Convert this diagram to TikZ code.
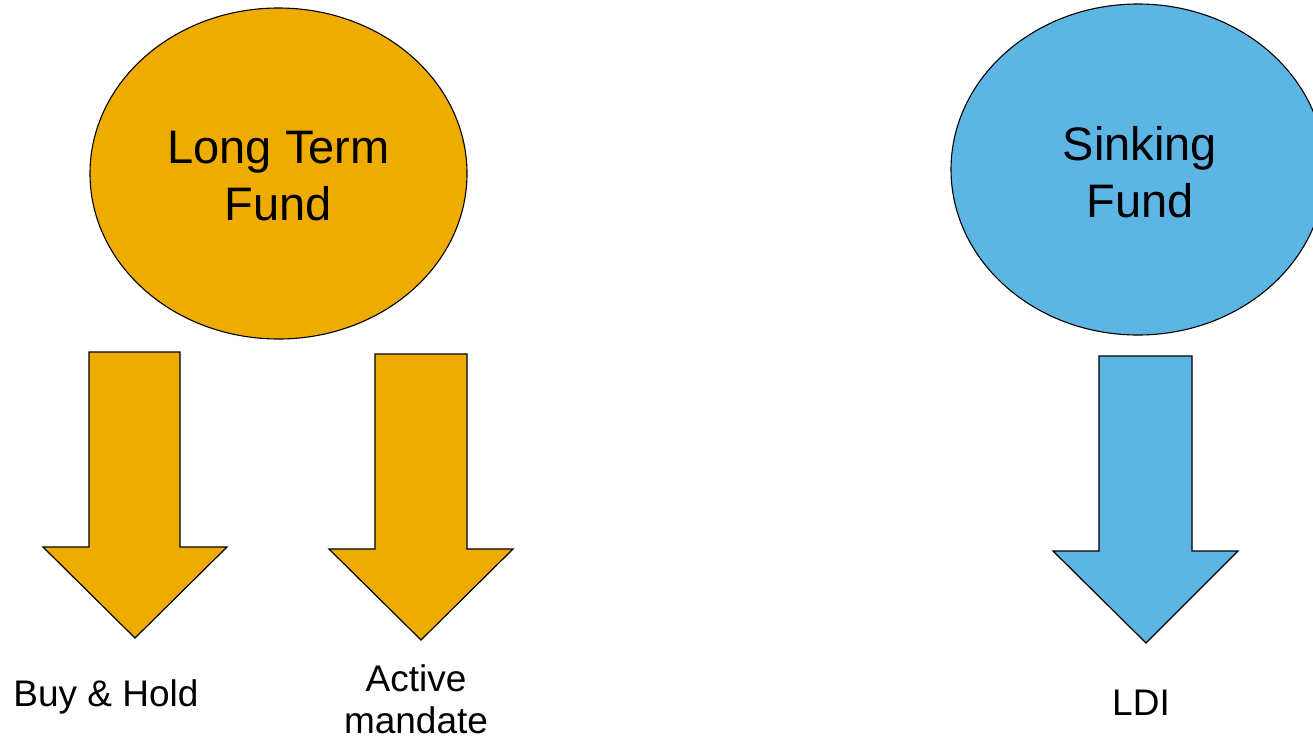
\documentclass[tikz,border=0pt]{standalone}
\usepackage{fontspec}
\setmainfont{Liberation Sans}
\usetikzlibrary{shapes.geometric}
\definecolor{fundorange}{HTML}{EFAC00}
\definecolor{fundblue}{HTML}{5DB5E4}
\tikzset{
  fund/.style={ellipse, draw=black, line width=1.1pt, inner sep=0pt},
  fundtext/.style={inner sep=0pt, align=center, font=\fontsize{47}{57}\selectfont},
  bigarrow/.style={draw=black, line width=1.2pt, line join=miter},
  lbl/.style={inner sep=0pt, align=center, font=\fontsize{37}{42}\selectfont}
}
\begin{document}
\begin{tikzpicture}[x=1pt, y=-1pt]
\fill[white] (0,0) rectangle (1313,739);
\useasboundingbox (0,0) rectangle (1313,739);

% ellipses
\node[fund, fill=fundorange, minimum width=377pt, minimum height=331pt] (ltf) at (278.5,173.5) {};
\node[fundtext] (ltft) at ([yshift=-3pt]ltf.center) {Long Term\\Fund};
\node[fund, fill=fundblue, minimum width=374pt, minimum height=331pt] (sf) at (1138,169.5) {};
\node[fundtext] (sft) at ([xshift=2pt,yshift=-2.5pt]sf.center) {Sinking\\Fund};

% arrows
\draw[bigarrow, fill=fundorange] (89,352) -- (180,352) -- (180,547) -- (227,547) -- (135,638) -- (43,547) -- (89,547) -- cycle;
\draw[bigarrow, fill=fundorange] (375,354) -- (467,354) -- (467,549) -- (513,549) -- (421,640) -- (329,549) -- (375,549) -- cycle;
\draw[bigarrow, fill=fundblue] (1099,356) -- (1192,356) -- (1192,551) -- (1238,551) -- (1146,643) -- (1053,551) -- (1099,551) -- cycle;

% labels
\node[lbl, anchor=base] (bh) at (106,706) {Buy \& Hold};
\node[lbl] (am) at (416,699) {Active\\mandate};
\node[lbl, anchor=base] (ldi) at (1141,715) {LDI};
\end{tikzpicture}
\end{document}
